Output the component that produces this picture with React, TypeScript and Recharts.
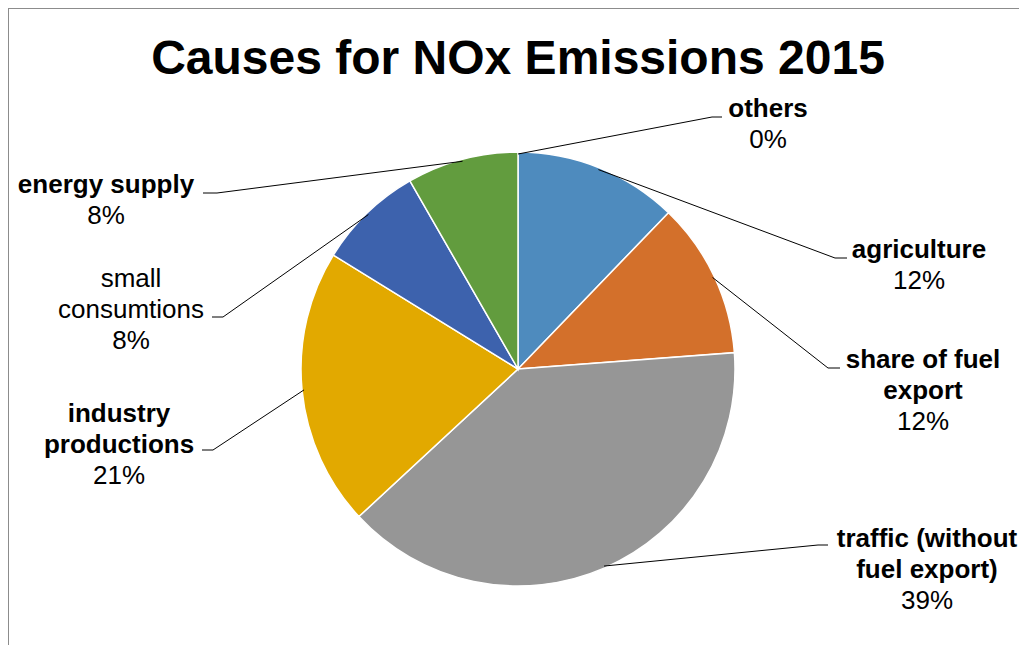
import React from 'react';
import { PieChart, Pie, Cell } from 'recharts';

const CATEGORIES = [
  'agriculture',
  'share of fuel export',
  'traffic (without fuel export)',
  'industry productions',
  'small consumtions',
  'energy supply',
  'others',
];
const SHARES = [12.2, 11.6, 39.3, 20.7, 7.9, 8.3, 0];
const COLORS = ['#4E8BBE', '#D3702B', '#969696', '#E2A900', '#3D62AD', '#629C3E', '#9DB8DD'];

const FONT = '"Liberation Sans", Arial, Helvetica, sans-serif';

// where Excel put each label: centre x, first baseline, leader bend and end
// split = how many words of the name stay on the first line
const LABELS = [
  { x: 919, y: 258, bend: [835, 258], end: [847, 258], split: 9, bold: true },
  { x: 923, y: 368, bend: [828, 368], end: [840, 368], split: 3, bold: true },
  { x: 927, y: 547, bend: [818, 545], end: [828, 545], split: 2, bold: true },
  { x: 119, y: 422, bend: [213, 450], end: [202, 450], split: 1, bold: true },
  { x: 131, y: 287, bend: [223, 317], end: [212, 317], split: 1, bold: false },
  { x: 106, y: 193, bend: [217, 193], end: [203, 193], split: 9, bold: true },
  { x: 768, y: 117, bend: [712, 117], end: [722, 117], split: 9, bold: true },
];

const data = CATEGORIES.map((name, i) => ({ name, value: SHARES[i] }));

const renderLabel = (props: any) => {
  const { cx, cy, midAngle, outerRadius, index, percent } = props;
  const lay = LABELS[index];
  const RAD = Math.PI / 180;
  const sx = cx + (outerRadius - 2) * Math.cos(-midAngle * RAD);
  const sy = cy + (outerRadius - 2) * Math.sin(-midAngle * RAD);
  const words = CATEGORIES[index].split(' ');
  const nameLines = [words.slice(0, lay.split).join(' '), words.slice(lay.split).join(' ')].filter(Boolean);
  return (
    <g>
      <polyline
        points={`${sx},${sy} ${lay.bend[0]},${lay.bend[1]} ${lay.end[0]},${lay.end[1]}`}
        fill="none"
        stroke="#000"
        strokeWidth={1}
      />
      <text x={lay.x} textAnchor="middle" fontFamily={FONT} fontSize={26} fill="#000">
        {nameLines.map((t, i) => (
          <tspan key={i} x={lay.x} y={lay.y + i * 31} fontWeight={lay.bold ? 'bold' : 'normal'}>
            {t}
          </tspan>
        ))}
        <tspan x={lay.x} y={lay.y + nameLines.length * 31}>
          {Math.round(percent * 100)}%
        </tspan>
      </text>
    </g>
  );
};

export default function App() {
  return (
    <div style={{ position: 'fixed', left: 0, top: 0, width: 1019, height: 645, overflow: 'hidden', background: '#fff' }}>
      {/* chart frame, only top and left edge are visible */}
      <div
        style={{
          position: 'absolute',
          left: 8,
          top: 8,
          width: 1100,
          height: 700,
          borderTop: '1px solid #8c8c8c',
          borderLeft: '1px solid #8c8c8c',
        }}
      />
      <div
        style={{
          position: 'absolute',
          left: 18,
          width: 1000,
          top: 34,
          fontFamily: FONT,
          fontSize: 48,
          lineHeight: '48px',
          fontWeight: 'bold',
          textAlign: 'center',
          color: '#000',
        }}
      >
        Causes for NOx Emissions 2015
      </div>
      <div style={{ position: 'absolute', left: 0, top: 0 }}>
        <PieChart width={1019} height={645} margin={{ top: 0, right: 0, bottom: 0, left: 0 }}>
          <Pie
            data={data}
            dataKey="value"
            nameKey="name"
            cx={518}
            cy={369}
            outerRadius={217}
            startAngle={90}
            endAngle={-270}
            stroke="#fff"
            strokeWidth={1.5}
            label={renderLabel}
            labelLine={false}
            isAnimationActive={false}
          >
            {data.map((entry, index) => (
              <Cell key={`cell-${index}`} fill={COLORS[index % COLORS.length]} />
            ))}
          </Pie>
        </PieChart>
      </div>
    </div>
  );
}
